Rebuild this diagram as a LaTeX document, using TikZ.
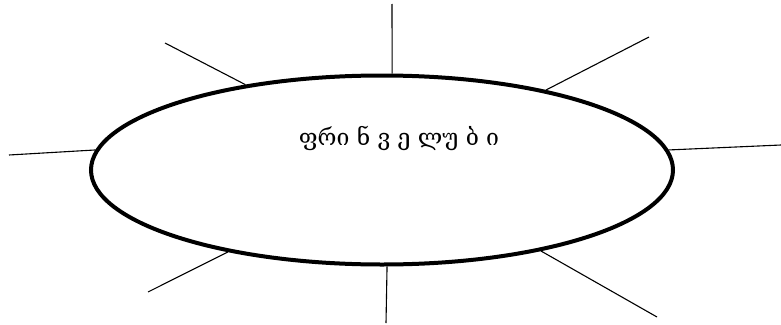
\documentclass[tikz,border=0pt]{standalone}
\usepackage{fontspec}
\newfontfamily\geofont{DejaVu Serif}
\usetikzlibrary{shapes.geometric}
\begin{document}
\begin{tikzpicture}[x=1pt,y=-1pt,
  oval/.style={ellipse,draw=black,line width=4pt,minimum width=582pt,minimum height=189pt,inner sep=0pt},
  ray/.style={draw=black,line width=1.1pt},
  label/.style={font=\geofont\fontsize{23}{26}\selectfont,inner sep=0pt}]
\useasboundingbox (0,0) rectangle (781,324);
\node[oval] (e) at (382,170) {};
\node[label] (t) at (399,138) {ფრი ნ ვ ე ლუ ბ ი};
\coordinate (pT) at (392,4);
\coordinate (pUR) at (649,37);
\coordinate (pR) at (781,145);
\coordinate (pLR) at (657,317);
\coordinate (pB) at (386,323);
\coordinate (pLL) at (148,292);
\coordinate (pL) at (9,155);
\coordinate (pUL) at (165,43);
\draw[ray] (pT) -- (e.84.7);
\draw[ray] (pUR) -- (e.26.3);
\draw[ray] (pR) -- (e.4.4);
\draw[ray] (pLR) -- (e.-27.3);
\draw[ray] (pB) -- (e.-87.8);
\draw[ray] (pLL) -- (e.208);
\draw[ray] (pL) -- (e.176.9);
\draw[ray] (pUL) -- (e.148.6);
\end{tikzpicture}
\end{document}
